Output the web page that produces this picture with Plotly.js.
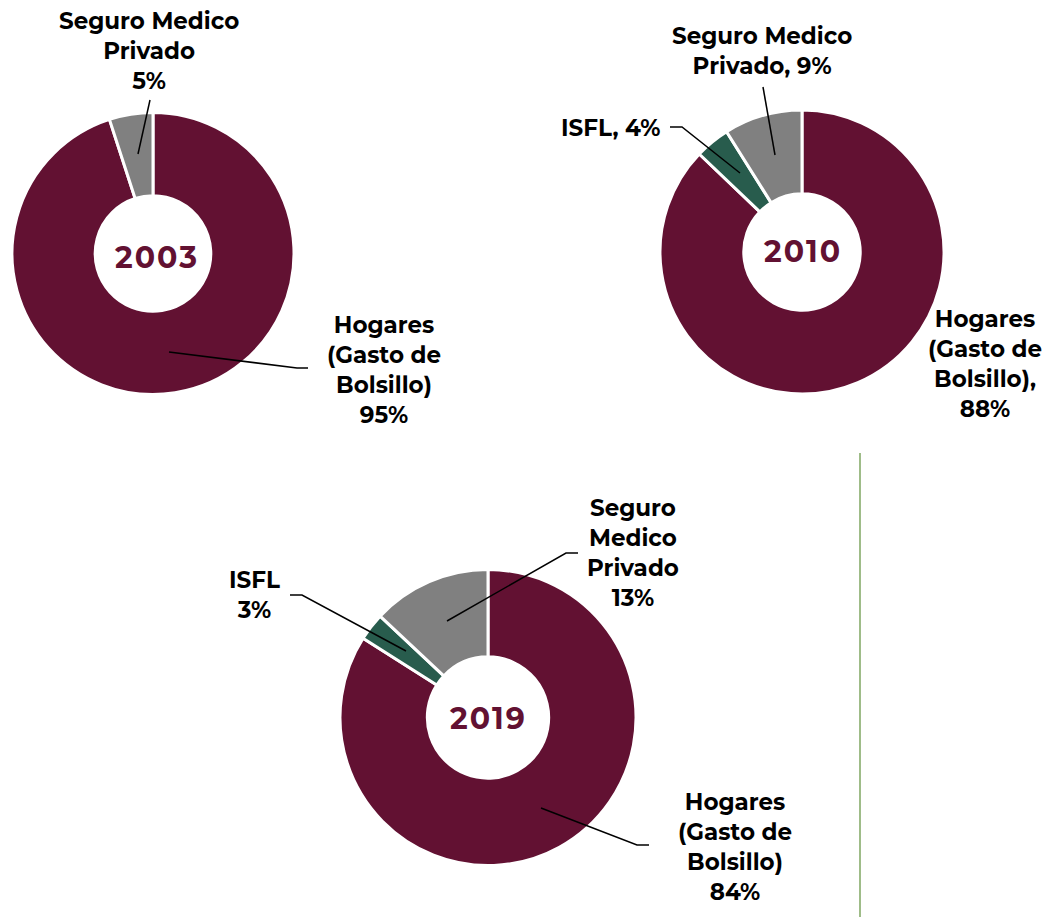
<!DOCTYPE html>
<html>
<head>
<meta charset="utf-8">
<script src="https://cdn.plot.ly/plotly-3.0.1.min.js"></script>
<style>
  html, body { margin: 0; padding: 0; background: #fff; }
  #chart { width: 1050px; height: 917px; }
</style>
</head>
<body>
<div id="chart"></div>
<script>
// Data
const labels2003 = ["Hogares (Gasto de Bolsillo)", "Seguro Medico Privado"];
const values2003 = [95, 5];
const labels2010 = ["Hogares (Gasto de Bolsillo)", "ISFL", "Seguro Medico Privado"];
const values2010 = [88, 4, 9];
const labels2019 = ["Hogares (Gasto de Bolsillo)", "ISFL", "Seguro Medico Privado"];
const values2019 = [84, 3, 13];
const years = ["2003", "2010", "2019"];

const W = 1050, H = 917;
const MAROON = "#621132", GRAY = "#808080", GREEN = "#285C4D";
const FONT = "Montserrat, 'Open Sans', Lato, sans-serif";

// pixel -> paper helpers
function px(x) { return x / W; }
function py(y) { return 1 - y / H; }

function donut(labels, values, colors, box) {
  return {
    type: "pie",
    labels: labels,
    values: values,
    hole: 0.41,
    sort: false,
    direction: "clockwise",
    rotation: 0,
    textinfo: "none",
    hoverinfo: "label+percent",
    showlegend: false,
    marker: { colors: colors, line: { color: "#fff", width: 3 } },
    domain: { x: [px(box[0]), px(box[2])], y: [py(box[3]), py(box[1])] }
  };
}

const traces = [
  donut(labels2003, values2003, [MAROON, GRAY], [12, 112, 294, 395]),
  donut(labels2010, values2010, [MAROON, GREEN, GRAY], [660, 110, 944, 394]),
  donut(labels2019, values2019, [MAROON, GREEN, GRAY], [340, 569, 636, 866])
];

// label text
function label(text, x, y) {
  return {
    xref: "paper", yref: "paper", x: px(x), y: py(y),
    text: text, showarrow: false, align: "center",
    xanchor: "center", yanchor: "middle",
    font: { family: FONT, size: 23, color: "#000", weight: 700 }
  };
}
function year(text, x, y) {
  return {
    xref: "paper", yref: "paper", x: px(x), y: py(y),
    text: "<span style='letter-spacing:2px'>" + text + "</span>",
    showarrow: false, xanchor: "center", yanchor: "middle",
    font: { family: FONT, size: 30, color: MAROON, weight: 700 }
  };
}

const annotations = [
  year(years[0], 157, 258),
  year(years[1], 803, 251),
  year(years[2], 488, 718),
  label("Seguro Medico<br>Privado<br>5%", 149, 51),
  label("Hogares<br>(Gasto de<br>Bolsillo)<br>95%", 384, 370),
  label("Seguro Medico<br>Privado, 9%", 762, 51),
  label("ISFL, 4%", 610, 128),
  label("Hogares<br>(Gasto de<br>Bolsillo),<br>88%", 985, 364),
  label("Seguro<br>Medico<br>Privado<br>13%", 633, 553),
  label("ISFL<br>3%", 254, 595),
  label("Hogares<br>(Gasto de<br>Bolsillo)<br>84%", 735, 847)
];

// leader lines
function leader(points) {
  let d = points.map((p, i) => (i ? "L" : "M") + px(p[0]) + "," + py(p[1])).join(" ");
  return { type: "path", xref: "paper", yref: "paper", path: d,
           line: { color: "#000", width: 1.5 } };
}

const shapes = [
  leader([[138, 154], [150, 100]]),
  leader([[169, 352], [297, 368], [308, 368]]),
  leader([[775, 155], [763, 87]]),
  leader([[740, 173], [682, 127], [670, 127]]),
  leader([[447, 621], [566, 553], [578, 553]]),
  leader([[406, 651], [302, 595], [290, 595]]),
  leader([[541, 808], [637, 845], [649, 845]]),
  { type: "line", xref: "paper", yref: "paper",
    x0: px(860), x1: px(860), y0: py(453), y1: py(917),
    line: { color: "#5f8f3a", width: 1.2 } }
];

const layout = {
  width: W, height: H,
  margin: { l: 0, r: 0, t: 0, b: 0 },
  paper_bgcolor: "#fff",
  plot_bgcolor: "#fff",
  showlegend: false,
  annotations: annotations,
  shapes: shapes
};

Plotly.newPlot("chart", traces, layout, { displayModeBar: false, staticPlot: true });
</script>
</body>
</html>
